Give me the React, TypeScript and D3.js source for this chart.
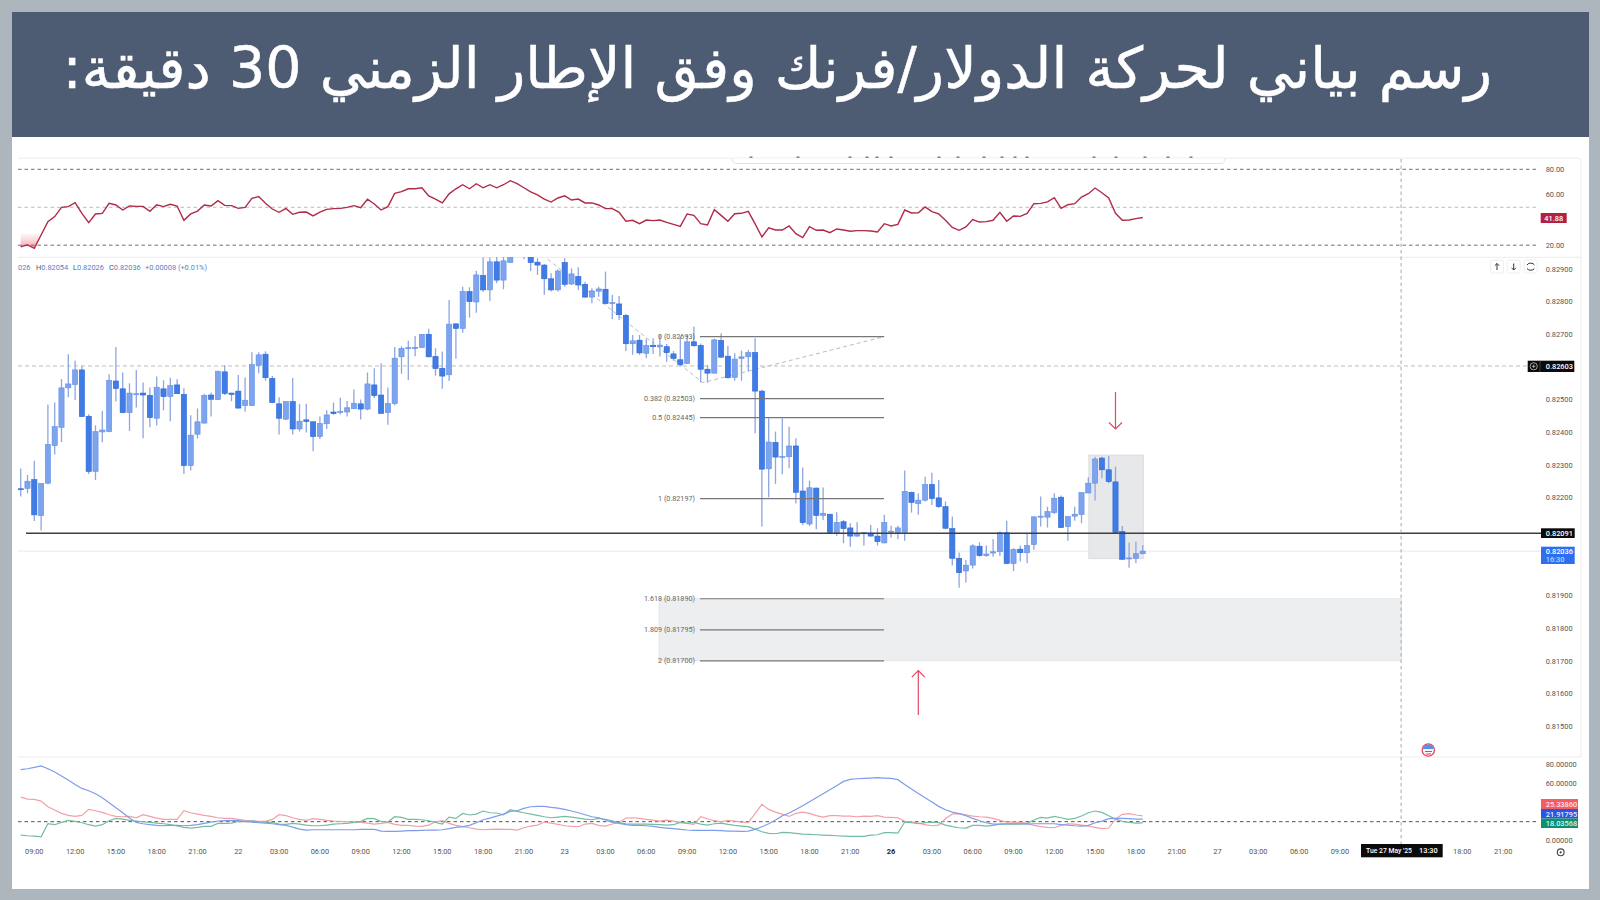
import React from "react";
import { scaleLinear, line, area, curveLinear } from "d3";

const title = "رسم بياني لحركة الدولار/فرنك وفق الإطار الزمني 30 دقيقة:";

// prices are in 1e-5 units, one entry per 30 minute bar
const opens = [
  82227,82228,82255,82145,82244,82359,82415,82536,82546,82591,
  82449,82280,82401,82402,82557,82533,82460,82516,82520,82513,
  82443,82533,82509,82545,82516,82298,82394,82428,82514,82500,
  82585,82520,82526,82482,82482,82605,82639,82565,82487,82440,
  82494,82410,82438,82432,82387,82426,82462,82461,82462,82472,
  82487,82471,82545,82514,82460,82488,82631,82656,82657,82659,
  82700,82632,82596,82576,82732,82718,82831,82799,82880,82836,
  82922,82866,82920,82950,82950,82948,82921,82912,82870,82836,
  82920,82854,82877,82853,82814,82832,82838,82795,82793,82758,
  82671,82682,82642,82666,82662,82662,82640,82622,82611,82677,
  82666,82593,82581,82681,82633,82568,82626,82631,82644,82526,
  82288,82369,82324,82325,82358,82220,82119,82229,82145,82149,
  82091,82126,82107,82082,82092,82091,82082,82061,82094,82093,
  82094,82216,82181,82192,82240,82199,82172,82105,82014,81975,
  81993,82051,82022,82030,82034,82092,81998,82042,82031,82056,
  82140,82140,82154,82201,82111,82143,82148,82214,82244,82321,
  82285,82248,82096,82013,82014,82028,
];
const highs = [
  82289,82269,82313,82243,82485,82491,82563,82639,82619,82604,
  82455,82421,82465,82578,82661,82583,82550,82591,82552,82537,
  82571,82559,82567,82562,82535,82452,82473,82518,82522,82588,
  82605,82521,82575,82568,82645,82645,82648,82572,82507,82494,
  82566,82487,82487,82434,82448,82467,82491,82506,82496,82531,
  82500,82583,82596,82611,82537,82661,82663,82680,82695,82700,
  82717,82657,82647,82805,82733,82846,82844,82895,82936,82936,
  82938,82948,82958,82980,82975,82958,82933,82915,82887,82899,
  82933,82902,82905,82861,82841,82846,82892,82821,82817,82762,
  82698,82698,82686,82688,82698,82670,82649,82693,82698,82724,
  82672,82606,82686,82703,82664,82642,82650,82652,82688,82530,
  82443,82402,82443,82417,82382,82292,82252,82231,82231,82150,
  82155,82131,82121,82124,82092,82116,82106,82147,82114,82114,
  82283,82218,82213,82264,82276,82254,82188,82142,82032,82009,
  82057,82063,82053,82073,82096,82129,82045,82053,82091,82142,
  82203,82172,82213,82206,82142,82172,82215,82262,82325,82325,
  82327,82295,82113,82062,82065,82054,
];
const lows = [
  82203,82213,82128,82099,82241,82332,82370,82507,82499,82448,
  82272,82254,82369,82400,82494,82458,82404,82476,82382,82415,
  82421,82467,82434,82517,82272,82283,82381,82427,82448,82499,
  82514,82495,82473,82463,82481,82581,82558,82489,82393,82438,
  82393,82402,82399,82342,82379,82410,82454,82454,82448,82471,
  82439,82467,82505,82457,82423,82482,82579,82560,82633,82659,
  82630,82573,82533,82557,82625,82705,82751,82766,82830,82802,
  82856,82838,82919,82945,82930,82894,82882,82821,82831,82831,
  82846,82851,82836,82813,82795,82815,82793,82746,82744,82649,
  82637,82637,82627,82640,82632,82616,82619,82601,82609,82662,
  82552,82552,82580,82629,82565,82558,82558,82586,82397,82111,
  82201,82242,82271,82290,82182,82116,82113,82103,82131,82091,
  82083,82060,82049,82080,82052,82080,82053,82060,82078,82072,
  82068,82154,82147,82188,82177,82169,82103,81992,81924,81940,
  81983,82019,82019,82019,82021,81996,81975,82004,81999,82040,
  82111,82108,82150,82107,82068,82129,82121,82213,82191,82259,
  82244,82091,82009,81985,81999,82026,
];
const closes = [
  82225,82250,82147,82243,82363,82417,82536,82548,82591,82448,
  82280,82402,82407,82559,82534,82460,82520,82518,82514,82445,
  82538,82509,82543,82518,82298,82391,82432,82513,82501,82587,
  82519,82516,82474,82498,82607,82637,82567,82491,82443,82494,
  82410,82434,82433,82387,82427,82453,82457,82464,82475,82489,
  82471,82548,82512,82458,82488,82627,82657,82659,82660,82700,
  82631,82595,82572,82731,82718,82831,82800,82882,82836,82922,
  82866,82925,82948,82965,82968,82920,82912,82870,82836,82894,
  82853,82885,82851,82814,82833,82839,82794,82797,82760,82671,
  82680,82643,82666,82662,82667,82644,82626,82607,82677,82665,
  82593,82581,82683,82630,82567,82624,82631,82644,82526,82287,
  82370,82324,82326,82358,82216,82123,82230,82145,82152,82093,
  82124,82105,82082,82089,82089,82082,82065,82124,82097,82107,
  82219,82185,82192,82240,82197,82172,82106,82014,81970,81993,
  82052,82022,82027,82034,82092,81998,82041,82031,82053,82141,
  82143,82157,82198,82108,82142,82149,82215,82244,82318,82285,
  82249,82093,82011,82015,82028,82036,
];

const rsi = [
  18.8,20.2,17.5,28.1,38.6,42.6,49.9,50.5,53.6,45.2,
  37.8,44.7,45.2,53.1,51.8,47.8,51,50.7,50.7,46.8,
  52,50.5,52.3,51,39.7,44.7,47,51.8,51,55.2,
  51.5,51.3,49.1,49.9,57,58.4,53.1,48.6,46,49.1,
  44.4,46,46.2,43.1,46.2,48.3,48.9,49.1,49.9,51.3,
  49.7,56.3,52.6,47.8,50.5,61,62.3,64.6,64.6,65.4,
  58.9,56.5,53.4,60.6,64.6,67.8,64.6,68.6,65.4,67.8,
  65.4,67.8,71,68.6,65.4,62.2,59.8,56.5,54.1,57.3,
  59,55.7,56.5,53.4,53.4,51.8,48.9,48.9,46,38.9,
  39.7,37,39.9,39.4,39.9,38.1,36.5,34.9,44.7,43.6,
  37,36,48.1,43.6,38.9,44.9,45.2,46.8,36.8,26.5,
  33.8,32,32,35.2,29.1,26,34.7,31.8,32,29.9,
  32.8,32,31,31.5,31.5,31.2,30.4,37,35.2,36.5,
  47.8,45.5,45.7,50.2,46.5,44.7,39.7,34.1,31.8,34.4,
  40.2,38.3,38.6,39.7,46,38.9,43.1,42.8,45.2,52.8,
  53.1,54.2,57.6,49.1,52,52.8,58.1,60.7,65.2,61.5,
  57.3,45.2,39.7,39.9,41,41.88,
];

const adx = [
  74,75,76.4,77.9,75,71.5,67.3,63.1,58.5,54.3,
  51.9,48.7,44.5,39.2,34,28.7,23.1,18.5,17.1,16.1,
  15.4,15,15.4,15.4,15,15.4,16.1,17.5,18.9,20,
  20.3,20.6,20.3,19.6,18.9,18.2,17.8,17.1,16.1,15.4,
  13.6,11.5,10.5,10.8,10.8,10.8,10.8,10.8,10.8,10.8,
  11.2,11.2,11.2,9.4,9,9,9.4,9.8,9.8,10.1,
  10.5,10.5,10.8,11.9,13.3,14,15.4,18.2,21.3,23.1,
  25.2,27.3,30.1,30.8,33.3,35,35.4,35.4,34.3,33.6,
  32.2,30.5,28.7,26.6,24.5,23.4,21,18.9,17.5,16.1,
  15.4,15.4,15,14.3,13.3,12.6,11.9,11.2,10.5,10.1,
  10.1,10.1,10.1,9.8,9.4,9.4,9,9.4,11.2,14,
  17.1,21,25.6,28.4,32.2,36.1,40.3,44.5,48.7,52.9,
  57.1,61.7,63.8,64.5,64.9,65.2,65.6,65.2,64.9,63.5,
  58.5,53.6,49,44.5,39.9,35.4,31.9,29.4,27.7,25.6,
  22.7,20.3,18.2,16.8,16.8,17.1,17.1,17.1,16.8,17.1,
  17.1,17.1,17.1,16.1,15.7,15,14.7,15.4,18.2,19.9,
  22.4,22.7,22.7,22.4,22,21.92,
];
const plusDi = [
  45.2,43.1,42.7,41,35,31.5,28,25.9,24.8,25.9,
  32.2,30.8,29,26.6,24.8,24.5,24.8,23.4,26.6,24.8,
  23.1,21.7,21.7,21.7,30.8,28.7,27.3,25.9,24.8,23.4,
  22.7,22.7,21.7,20.6,20,19.6,19.6,21.7,26.6,25.6,
  23.4,21.7,20.6,22.4,21.7,20.6,20,19.6,19.2,18.9,
  18.5,17.8,16.8,17.5,18.5,16.4,15.4,15.4,14.7,14.3,
  15.7,19.2,20.3,17.5,15.4,14,12.9,11.5,10.8,11.2,
  11.5,11.2,11.2,10.5,12.9,14.7,15.7,18.9,17.8,16.4,
  15,14.3,14,16.8,17.5,15.4,14.7,16.8,18.5,23.1,
  23.4,22.7,21.7,21,19.9,21,19.9,18.5,17.5,16.4,
  24.5,22.4,20.3,19.2,20.6,19.9,18.9,18.2,27.7,37.5,
  32.2,29.4,27.3,24.8,28,29.4,28,25.6,24.1,25.6,
  25.6,25.2,25.2,24.5,25.2,24.8,25.6,24.1,23.8,23.4,
  19.6,19.2,17.8,16.1,15,15.7,22.4,27.3,27.7,26.6,
  25.2,24.5,24.1,22.7,20.6,18.9,18.9,18.5,17.5,15.4,
  14,13.3,12.9,15.4,17.1,16.8,15.7,14.7,13.3,11.9,
  12.6,22,27,27.7,26.3,25.34,
];
const minusDi = [
  5.2,4.5,4.1,3.4,17.1,16.1,18.5,20.6,19.6,18.2,
  16.1,14.7,16.1,20.3,22.7,22,20.6,20,19.2,18.5,
  17.8,17.1,16.1,14.7,13.3,12.6,13.3,14.3,14.3,17.5,
  17.5,17.8,19.6,19.2,20.3,19.2,18.5,18.5,16.8,16.4,
  17.5,16.8,15.7,15,15,15.7,16.8,17.1,17.5,18.5,
  19.6,22.7,22.4,19.6,18.9,24.5,23.8,21.7,21.7,21.3,
  20.3,18.5,16.8,24.1,22.7,28,26.3,27.3,30.5,28.7,
  28.4,26.6,31.9,30.1,28.7,27.3,25.9,24.5,23.4,24.1,
  24.8,24.1,23.1,22,21.3,22.7,21.7,20.3,18.2,17.1,
  16.8,16.8,16.8,16.4,16.1,15.7,16.1,18.5,17.8,18.5,
  16.8,15.7,17.1,17.8,16.4,15.4,14.7,14,11.5,8.7,
  6.9,6.6,8,7.7,6.9,6.2,5.9,5.5,5.2,4.8,
  4.5,4.1,3.8,3.8,3.8,5.2,5.5,7.7,7.7,7.3,
  18.9,18.2,17.1,18.2,18.9,18.2,15.7,14,12.9,12.6,
  15.4,15.4,14.7,15.4,16.8,16.8,16.8,16.8,17.5,21,
  23.8,23.1,24.8,23.4,21.7,22.7,25.2,28.7,30.5,29.1,
  25.6,22,19.6,18.5,17.8,18.04,
];

const priceTicks = [82900,82800,82700,82500,82400,82300,82200,81900,81800,81700,81600,81500];
const rsiTicks = [80,60,20];
const adxTicks = [80,60,0];
const timeLabels = [
  "09:00","12:00","15:00","18:00","21:00","22",
  "03:00","06:00","09:00","12:00","15:00","18:00","21:00","23",
  "03:00","06:00","09:00","12:00","15:00","18:00","21:00","26",
  "03:00","06:00","09:00","12:00","15:00","18:00","21:00","27",
  "03:00","06:00","09:00","","","18:00","21:00",
];
const fibRatios = ["0","0.382","0.5","1","1.618","1.809","2"];
const fibPrices = [82693,82503,82445,82197,81890,81795,81700];
const drawingBars = [77.5,100.3,127];
const drawingPrices = [82930,82552,82693];
const toolbarMarks = [751,798,850,867,877,891,939,958,984,1002,1015,1027,1094,1116,1145,1168,1191];

const F = "Roboto, 'Open Sans', sans-serif";
const upFill = "#7ba4ef";
const upEdge = "#6590e6";
const downFill = "#3f7ce6";
const downEdge = "#2c66d4";
const wick = "#8ea6de";
const gridDash = "#6f6f6f";

export default function App() {
  const x = scaleLinear().domain([0, 165]).range([20.7, 1142.7]);
  const y = scaleLinear().domain([82900, 81500]).range([269, 726.1]);
  const yRsi = scaleLinear().domain([80, 20]).range([169.3, 245.2]);
  const yAdx = scaleLinear().domain([80, 0]).range([764, 840]);
  const crossBar = 203;

  const lineOf = (yFn: (v: number) => number) =>
    line<number>().x((_, i) => x(i)).y((d) => yFn(d)).curve(curveLinear);
  const rsiFill = area<number>()
    .x((_, i) => x(i))
    .y0(yRsi(29))
    .y1((d) => Math.max(yRsi(d), yRsi(29)));

  const fibRight = 884;
  const barW = 5.2;
  const pct = ["H0.82054", "L0.82026", "C0.82036"];
  const bw = 13;

  return (
    <svg
      width={1600}
      height={900}
      viewBox="0 0 1600 900"
      style={{ position: "fixed", left: 0, top: 0, fontFamily: F }}
    >
      <defs>
        <clipPath id="mainPane">
          <rect x={18} y={257} width={1523} height={500} />
        </clipPath>
        <linearGradient id="rsiPink" x1="0" y1="0" x2="0" y2="1">
          <stop offset="0" stopColor="#f7b4bc" stopOpacity={0.15} />
          <stop offset="1" stopColor="#f27a88" stopOpacity={0.75} />
        </linearGradient>
        {/* the source screenshot is slightly soft */}
        <filter id="soft" x="-1%" y="-1%" width="102%" height="102%">
          <feGaussianBlur stdDeviation={0.3} />
        </filter>
      </defs>

      <rect width={1600} height={900} fill="#adb5bd" />
      <rect x={12} y={137} width={1577} height={752} fill="#ffffff" />
      <rect x={12} y={12} width={1577} height={125} fill="#4d5b73" />
      <text
        x={1492}
        y={88}
        fill="#ffffff"
        stroke="#ffffff"
        strokeWidth={0.5}
        fontSize={57}
        fontFamily="'DejaVu Sans', sans-serif"
        direction="rtl"
        textAnchor="start"
        style={{ unicodeBidi: "plaintext" }}
      >
        {title}
      </text>

      {/* pane frames */}
      <g stroke="#ececec" fill="none">
        <path d={`M18 158H1577q4 0 4 4V757H18`} />
        <line x1={18} x2={1581} y1={257.3} y2={257.3} />
      </g>
      <path d="M732 158.5q0 5 5 5H1220q5 0 5-5" fill="#fff" stroke="#e2e2e2" />
      {toolbarMarks.map((m) => (
        <rect key={m} x={m - 1.5} y={156.5} width={3} height={1.4} fill="#777" />
      ))}

      {/* RSI pane */}
      <path d={rsiFill(rsi.slice(0, 4)) ?? ""} fill="url(#rsiPink)" />
      {[80, 50, 20].map((v) => (
        <line
          key={v}
          x1={18}
          x2={1539}
          y1={yRsi(v)}
          y2={yRsi(v)}
          stroke={v === 50 ? "#b9b9b9" : gridDash}
          strokeWidth={1}
          strokeDasharray="3.5 3"
        />
      ))}
      <path d={lineOf(yRsi)(rsi) ?? ""} fill="none" stroke="#b02a48" strokeWidth={1.4} filter="url(#soft)" />
      {rsiTicks.map((v) => (
        <text key={v} x={1545.7} y={yRsi(v) + 2.7} fontSize={7.4} fill="#555">
          {v.toFixed(2)}
        </text>
      ))}

      {/* reference lines under the candles */}
      <line x1={18} x2={1527} y1={y(82603)} y2={y(82603)} stroke="#bdbdbd" strokeDasharray="4 3" />
      <line x1={18} x2={1541} y1={y(82036)} y2={y(82036)} stroke="#e1e8f2" />

      {/* target zone and selection box */}
      <rect
        x={659}
        width={1401.3 - 659}
        y={y(81890)}
        height={y(81700) - y(81890)}
        fill="#eceef0"
        stroke="#dcdde0"
        strokeWidth={0.6}
      />
      <rect
        x={x(157) + 0.6}
        width={x(165) - x(157)}
        y={y(82330)}
        height={y(82013) - y(82330)}
        fill="#e7e8ea"
        stroke="#dcdde0"
      />
      <path
        d={
          line<number>()
            .x((d) => x(d))
            .y((_, i) => y(drawingPrices[i]))(drawingBars) ?? ""
        }
        fill="none"
        stroke="#bcbcbc"
        strokeDasharray="4 3"
      />

      {/* candles */}
      <g clipPath="url(#mainPane)">
        <g filter="url(#soft)">
          {opens.map((o, i) => {
            const up = closes[i] >= o;
            const top = y(Math.max(o, closes[i]));
            const bottom = y(Math.min(o, closes[i]));
            return (
              <g key={i}>
                <line x1={x(i)} x2={x(i)} y1={y(highs[i])} y2={y(lows[i])} stroke={wick} strokeWidth={1.3} />
                <rect
                  x={x(i) - barW / 2}
                  width={barW}
                  y={top}
                  height={Math.max(bottom - top, 1)}
                  fill={up ? upFill : downFill}
                  stroke={up ? upEdge : downEdge}
                  strokeWidth={0.6}
                />
              </g>
            );
          })}
        </g>
      </g>

      {/* fibonacci levels */}
      {fibPrices.map((p, i) => (
        <g key={p}>
          <line x1={700} x2={fibRight} y1={y(p)} y2={y(p)} stroke="#777" strokeWidth={1.2} />
          <text x={695} y={y(p) + 2.6} fontSize={7.2} fill="#666" textAnchor="end">
            {`${fibRatios[i]} (${(p / 1e5).toFixed(5)})`}
          </text>
        </g>
      ))}

      {/* level and crosshair */}
      <line x1={26} x2={1541} y1={y(82091)} y2={y(82091)} stroke="#3f3f3f" strokeWidth={1.5} />
      <line x1={x(crossBar)} x2={x(crossBar)} y1={159} y2={844} stroke="#a8a8a8" strokeDasharray="3.5 3" />

      {/* red arrows */}
      <g fill="none" stroke="#e54661" strokeWidth={1.2}>
        <line x1={x(161)} x2={x(161)} y1={y(82523)} y2={y(82410)} />
        <path d={`M${x(161) - 6.5} ${y(82410) - 6.5}L${x(161)} ${y(82410)}L${x(161) + 6.5} ${y(82410) - 6.5}`} />
        <line x1={x(132)} x2={x(132)} y1={y(81670)} y2={y(81534)} />
        <path d={`M${x(132) - 6.5} ${y(81670) + 6.5}L${x(132)} ${y(81670)}L${x(132) + 6.5} ${y(81670) + 6.5}`} />
      </g>

      {/* legend */}
      <g fontSize={7.4}>
        <text x={18} y={269.5} fill="#5b7fc9">026</text>
        {pct.map((t, i) => (
          <text key={t} x={[36, 73, 109][i]} y={269.5} fill="#5b7fc9">
            <tspan fill="#555">{t[0]}</tspan>
            {t.slice(1)}
          </text>
        ))}
        <text x={145} y={269.5} fill="#5b7fc9">+0.00008 (+0.01%)</text>
      </g>

      {/* buttons */}
      {[1497, 1513.7, 1530.7].map((cx, i) => (
        <g key={cx}>
          <rect x={cx - bw / 2} y={260} width={bw} height={bw} rx={2.5} fill="#fff" stroke="#eeeeee" />
          {i === 0 && <path d="M1497 270V263.5M1494.8 265.7L1497 263.5L1499.2 265.7" stroke="#333" fill="none" />}
          {i === 1 && <path d="M1513.7 263.5V270M1511.5 267.8L1513.7 270L1515.9 267.8" stroke="#333" fill="none" />}
          {i === 2 && <path d="M1527 265a4 3 0 0 1 7.4 0M1527 268.4a4 3 0 0 0 7.4 0" stroke="#333" fill="none" />}
        </g>
      ))}

      {/* price axis */}
      {priceTicks.map((p) => (
        <text key={p} x={1545.7} y={y(p) + 2.7} fontSize={7.4} fill="#555">
          {(p / 1e5).toFixed(5)}
        </text>
      ))}

      {/* event flag */}
      <g>
        <circle cx={1428.3} cy={750} r={6.2} fill="#f4f6fb" stroke="#e5455c" strokeWidth={1.3} />
        <path d="M1422.8 749a5.6 5.6 0 0 1 11 0Z" fill="#5b8fe0" />
        <line x1={1425} x2={1432} y1={751.5} y2={751.5} stroke="#e5455c" />
        <line x1={1426} x2={1431} y1={754} y2={754} stroke="#e5455c" />
      </g>

      {/* ADX pane */}
      <line x1={18} x2={1539} y1={yAdx(19.3)} y2={yAdx(19.3)} stroke="#555" strokeDasharray="3.5 3" />
      <g filter="url(#soft)">
        <path d={lineOf(yAdx)(plusDi) ?? ""} fill="none" stroke="#f2a0a8" strokeWidth={1.2} />
        <path d={lineOf(yAdx)(minusDi) ?? ""} fill="none" stroke="#75bda0" strokeWidth={1.2} />
        <path d={lineOf(yAdx)(adx) ?? ""} fill="none" stroke="#7f9cec" strokeWidth={1.2} />
      </g>
      {adxTicks.map((v) => (
        <text key={v} x={1545.7} y={yAdx(v) + 2.7} fontSize={7.4} fill="#555">
          {v.toFixed(5)}
        </text>
      ))}

      {/* time axis */}
      {timeLabels.map((t, i) =>
        t ? (
          <text
            key={i}
            x={x(2 + i * 6)}
            y={854.4}
            fontSize={7.4}
            textAnchor="middle"
            fill={t === "26" ? "#222" : "#555"}
            fontWeight={t === "26" ? 700 : 400}
          >
            {t}
          </text>
        ) : null,
      )}
      <g>
        <circle cx={1560.7} cy={852.3} r={3.4} fill="none" stroke="#444" strokeWidth={1.1} />
        <circle cx={1560.7} cy={852.3} r={1.1} fill="#444" />
      </g>

      {/* axis badges */}
      <g fontSize={7.4} fontWeight={500}>
        <rect x={1540.7} y={213} width={26} height={10} fill="#b2213f" />
        <text x={1553.7} y={220.7} fill="#fff" textAnchor="middle">{rsi[165].toFixed(2)}</text>

        <rect x={1527.7} y={360.7} width={46.6} height={11.3} fill="#0b0b0b" />
        <circle cx={1533.7} cy={366.3} r={3.6} fill="none" stroke="#ddd" strokeWidth={0.7} />
        <path d="M1532 366.3h3.4M1533.7 364.6v3.4" stroke="#ddd" strokeWidth={0.7} />
        <line x1={1540} x2={1540} y1={360.7} y2={372} stroke="#666" strokeWidth={0.6} />
        <text x={1545.7} y={369} fill="#fff">0.82603</text>

        <rect x={1541} y={528.3} width={33.7} height={9.7} fill="#0b0b0b" />
        <text x={1545.7} y={535.8} fill="#fff">0.82091</text>

        <rect x={1541} y={546.7} width={33.7} height={17.3} fill="#2e6ff2" />
        <text x={1545.7} y={554.2} fill="#fff">0.82036</text>
        <text x={1545.7} y={562.4} fill="#bcd2fb">16:30</text>

        <rect x={1541} y={799} width={37} height={10} fill="#f45b62" />
        <text x={1545.7} y={806.6} fill="#fde3e4">25.33860</text>
        <rect x={1541} y={809} width={37} height={9.4} fill="#2a55e3" />
        <text x={1545.7} y={816.5} fill="#e6ecff">21.91795</text>
        <rect x={1541} y={818.4} width={37} height={9.6} fill="#0c8f72" />
        <text x={1545.7} y={826} fill="#def3ec">18.03568</text>

        <rect x={1361} y={844} width={81.7} height={13.3} fill="#0b0b0b" />
        <text x={1366} y={853.4} fill="#fff" fontSize={7.4} textLength={46} lengthAdjust="spacingAndGlyphs">
          Tue 27 May '25
        </text>
        <text x={1419} y={853.4} fill="#fff" fontSize={7.4}>13:30</text>
      </g>
    </svg>
  );
}
